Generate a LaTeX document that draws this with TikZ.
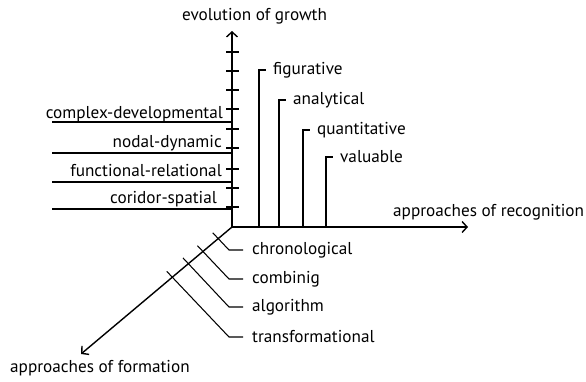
\documentclass[tikz,border=0pt]{standalone}
\usepackage{fontspec}
\setmainfont{PT Sans}
\usetikzlibrary{arrows.meta,calc}
\tikzset{
  axis/.style={line width=1.4pt,-{Straight Barb[length=5pt,width=11pt]}},
  tick/.style={line width=1.4pt},
  lead/.style={line width=1.05pt},
  lbl/.style={inner sep=3pt}
}
\begin{document}
\begin{tikzpicture}[x=1pt,y=-1pt,font=\fontsize{17.2}{19}\selectfont]
  \useasboundingbox (0,0) rectangle (586,381);
  \coordinate (O) at (232,227);
  \coordinate (Y) at (232,31);
  \coordinate (X) at (468,227);
  \coordinate (Z) at (81,354);

  % axes
  \draw[axis] (O) -- (Y);
  \draw[axis] (O) -- (X);
  \draw[axis] (O) -- (Z);
  \foreach \y in {52,71,90,109,129,148,169,188,207}
    \draw[tick] (226,\y) -- (239,\y);

  % axis titles
  \node[lbl,anchor=west] (growth) at (179,16) {evolution of growth};
  \node[lbl,anchor=west] (recog) at (390,212) {approaches of recognition};
  \node[lbl,anchor=west] (form) at (7,368) {approaches of formation};

  % levels of growth
  \foreach \nm/\ly/\ty/\tx/\txt in {cd/122/114/226/complex-developmental,
      nd/153/143/225/nodal-dynamic, fr/182/171/225/functional-relational,
      cs/209/199/220/coridor-spatial} {
    \node[lbl,anchor=east] (\nm) at (\tx,\ty) {\txt};
    \coordinate (\nm-l) at (52,\ly);
    \draw[lead] (\nm-l) -- (\nm-l -| O);
  }

  % approaches of recognition
  \foreach \nm/\fx/\ty/\txt in {fig/259/70/figurative, ana/279/100/analytical,
      qua/303/130/quantitative, val/326/157/valuable} {
    \node[lbl,anchor=west] (\nm) at (\fx+11,\ty) {\txt};
    \coordinate (\nm-foot) at (\fx,227);
    \draw[lead,shorten >=4pt] (\nm-foot) |- (\nm.west);
  }

  % approaches of formation
  \foreach \nm/\t/\ly/\txt in {chr/18/250/chronological, com/38/279/combinig,
      alg/57/307/algorithm, tra/78/337/transformational} {
    \coordinate (\nm-ax) at ($(O)!\t pt!(Z)$);
    \coordinate (\nm-bend) at (229,\ly);
    \node[lbl,anchor=west] (\nm) at (249,\ly) {\txt};
    \draw[lead] ($(\nm-ax)!-8pt!(\nm-bend)$) -- (\nm-bend) -- ([xshift=-6pt]\nm.west);
  }
\end{tikzpicture}
\end{document}
